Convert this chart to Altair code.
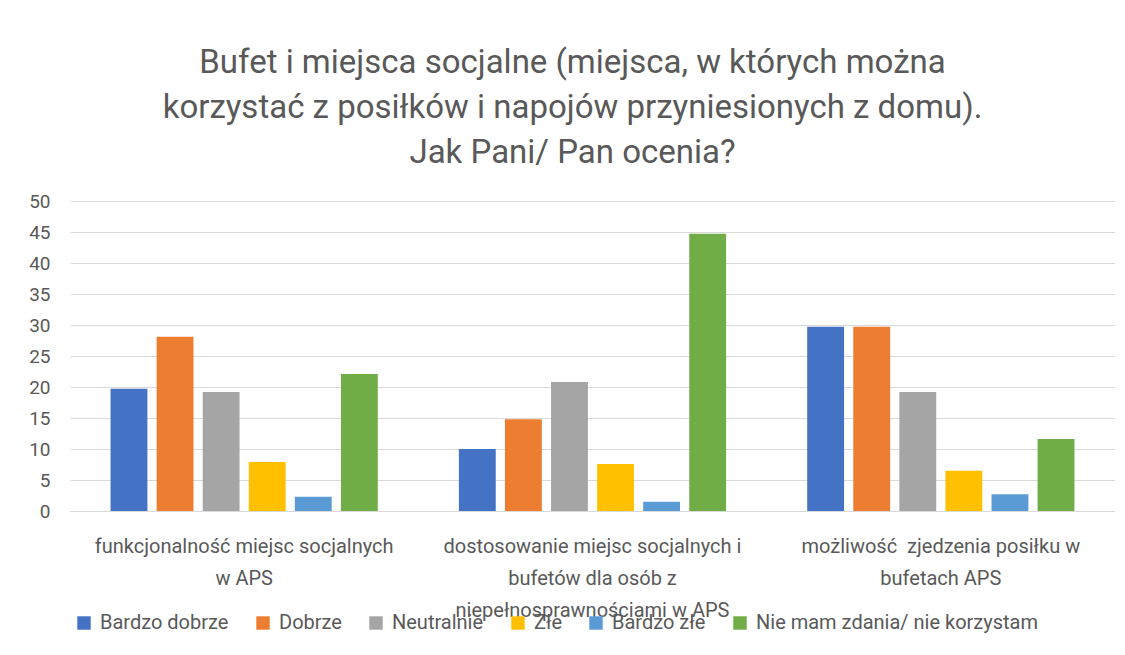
import altair as alt
import pandas as pd

categories = [
    "funkcjonalność miejsc socjalnych\nw APS",
    "dostosowanie miejsc socjalnych i\nbufetów dla osób z\nniepełnosprawnościami w APS",
    "możliwość\u00a0 zjedzenia posiłku w\nbufetach APS",
]
series = ["Bardzo dobrze", "Dobrze", "Neutralnie", "Złe", "Bardzo złe", "Nie mam zdania/ nie korzystam"]
colors = ["#4472C4", "#ED7D31", "#A5A5A5", "#FFC000", "#5B9BD5", "#70AD47"]

bardzo_dobrze = [19.7, 10.0, 29.7]
dobrze = [28.1, 14.8, 29.7]
neutralnie = [19.2, 20.8, 19.2]
zle = [7.9, 7.6, 6.5]
bardzo_zle = [2.3, 1.5, 2.7]
nie_mam = [22.1, 44.7, 11.6]

values = [bardzo_dobrze, dobrze, neutralnie, zle, bardzo_zle, nie_mam]
rows = []
for s, vals in zip(series, values):
    for c, v in zip(categories, vals):
        rows.append({"kategoria": c, "seria": s, "wartosc": v})
df = pd.DataFrame(rows)

FONT = "Roboto, sans-serif"
TXT = "#595959"

chart = alt.Chart(df).mark_bar().encode(
    x=alt.X("kategoria:N", sort=categories,
            scale=alt.Scale(paddingInner=0, paddingOuter=0),
            axis=alt.Axis(title=None, labelAngle=0, ticks=False, domainColor="#d9d9d9",
                          labelFontSize=20, labelColor=TXT, labelFont=FONT, labelLimit=0,
                          labelPadding=25, labelLineHeight=32, labelBaseline="top",
                          labelExpr="split(datum.label, '\\n')")),
    xOffset=alt.XOffset("seria:N", sort=series,
                        scale=alt.Scale(paddingInner=0.2, paddingOuter=0.88)),
    y=alt.Y("wartosc:Q", scale=alt.Scale(domain=[0, 50]),
            axis=alt.Axis(title=None, values=list(range(0, 55, 5)), ticks=False, domain=False,
                          gridColor="#d9d9d9", labelFontSize=19, labelColor=TXT,
                          labelFont=FONT, labelPadding=20)),
    color=alt.Color("seria:N", sort=series,
                    scale=alt.Scale(domain=series, range=colors),
                    legend=alt.Legend(title=None, orient="none", direction="horizontal",
                                      legendX=4, legendY=412, symbolType="square",
                                      symbolSize=180, symbolStrokeWidth=0,
                                      labelFontSize=20, labelColor=TXT, labelFont=FONT,
                                      labelLimit=0, columnPadding=24, labelOffset=6)),
).properties(
    width=1045,
    height=310,
    title=alt.TitleParams(
        text=["Bufet i miejsca socjalne (miejsca, w których można",
              "korzystać z posiłków i napojów przyniesionych z domu).",
              "Jak Pani/ Pan ocenia?"],
        fontSize=33, font=FONT, color=TXT, fontWeight="normal",
        lineHeight=45, offset=22, anchor="middle", dx=-20),
    autosize=alt.AutoSizeParams(type="none"),
    padding={"left": 62, "top": 193, "right": 0, "bottom": 130},
).configure_view(stroke=None)

chart.save("out.html", embed_options={"renderer": "svg", "actions": False})
